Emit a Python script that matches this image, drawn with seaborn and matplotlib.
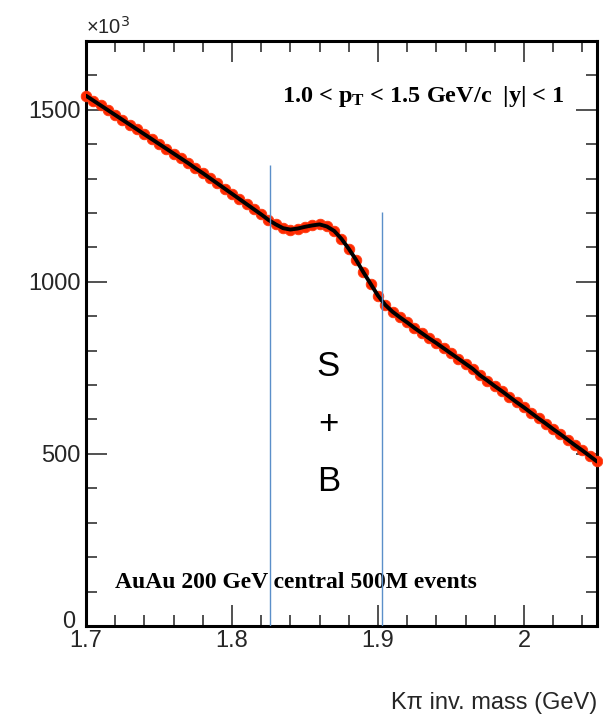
import numpy as np
import pandas as pd
import matplotlib
matplotlib.use("Agg")
import matplotlib.pyplot as plt
import matplotlib.transforms as mtransforms
import seaborn as sns
from matplotlib.ticker import MultipleLocator

# ---- data (counts in units of 10^3) ----
mass = [1.700, 1.705, 1.710, 1.715, 1.720, 1.725, 1.730, 1.735, 1.740, 1.745,
        1.750, 1.755, 1.760, 1.765, 1.770, 1.775, 1.780, 1.785, 1.790, 1.795,
        1.800, 1.805, 1.810, 1.815, 1.820, 1.825, 1.830, 1.835, 1.840, 1.845,
        1.850, 1.855, 1.860, 1.865, 1.870, 1.875, 1.880, 1.885, 1.890, 1.895,
        1.900, 1.905, 1.910, 1.915, 1.920, 1.925, 1.930, 1.935, 1.940, 1.945,
        1.950, 1.955, 1.960, 1.965, 1.970, 1.975, 1.980, 1.985, 1.990, 1.995,
        2.000, 2.005, 2.010, 2.015, 2.020, 2.025, 2.030, 2.035, 2.040, 2.045,
        2.050]
counts = [1541, 1527, 1513, 1499, 1485, 1471, 1457, 1443, 1429, 1415,
          1401, 1387, 1373, 1359, 1345, 1330, 1316, 1301, 1286, 1271,
          1256, 1241, 1226, 1211, 1196, 1180, 1167, 1156, 1152, 1155,
          1160, 1164, 1167, 1161, 1148, 1125, 1096, 1064, 1028, 994,
          960, 933, 913, 897, 882, 866, 851, 836, 822, 807,
          792, 777, 762, 747, 728, 713, 697, 682, 666, 650,
          635, 619, 603, 588, 572, 557, 541, 525, 510, 494,
          478]
window_x = [1.826, 1.903]
window_top = [1340, 1203]
x_ticks = [1.7, 1.8, 1.9, 2.0]
x_tick_labels = ["1.7", "1.8", "1.9", "2"]
y_ticks = [0, 500, 1000, 1500]
y_tick_labels = ["0", "500", "1000", "1500"]

df = pd.DataFrame({"mass": mass, "counts": counts})

sns.set_style("ticks")
plt.rcParams["font.family"] = ["Liberation Sans", "DejaVu Sans"]
plt.rcParams["mathtext.fontset"] = "custom"
plt.rcParams["mathtext.rm"] = "Liberation Serif:bold"
plt.rcParams["mathtext.it"] = "Liberation Serif:bold"
plt.rcParams["mathtext.bf"] = "Liberation Serif:bold"

fig = plt.figure(figsize=(6.03, 7.27), dpi=100)
ax = fig.add_axes([0.1426, 0.139, 0.8474, 0.8046])

sns.scatterplot(data=df, x="mass", y="counts", ax=ax, marker="o", s=58,
                color="#ff2a00", edgecolor="#ff3a10", linewidth=0.6,
                zorder=3, clip_on=False)
sns.lineplot(data=df, x="mass", y="counts", ax=ax, color="black",
             linewidth=2.8, zorder=4)

for xv, top in zip(window_x, window_top):
    ax.vlines(xv, 0, top, color="#5b8fc9", linewidth=1.0, zorder=5)

ax.set_xlim(1.7, 2.05)
ax.set_ylim(0, 1700)
ax.xaxis.set_minor_locator(MultipleLocator(0.02))
ax.yaxis.set_minor_locator(MultipleLocator(100))
ax.set_xticks(x_ticks)
ax.set_xticklabels(x_tick_labels)
ax.set_yticks(y_ticks)
ax.set_yticklabels(y_tick_labels)

ax.tick_params(axis="both", which="major", direction="in", length=15,
               width=1.2, color="#333333", labelsize=17, top=True, right=True)
ax.tick_params(axis="both", which="minor", direction="in", length=8,
               width=1.2, color="#333333", top=True, right=True)
ax.tick_params(axis="x", which="major", pad=3)
ax.tick_params(axis="y", which="major", pad=4)
for sp in ax.spines.values():
    sp.set_visible(True)
    sp.set_linewidth(2.2)
    sp.set_color("black")

# nudge the "0" y label up-left like the ROOT layout, avoiding the "1.7"
lab0 = ax.get_yticklabels()[0]
lab0.set_transform(lab0.get_transform() +
                   mtransforms.ScaledTranslation(-4 / 72, 5 / 72, fig.dpi_scale_trans))

ax.set_xlabel("")
ax.set_ylabel("")

fig.text(0.990, 0.018, "K\u03c0 inv. mass (GeV)", ha="right", va="bottom",
         fontsize=17)
ax.text(0.0, 1.006, "\u00d710$^{\\mathsf{3}}$", transform=ax.transAxes,
        ha="left", va="bottom", fontsize=14.5, family="Liberation Sans")

ax.text(0.937, 0.905, r"1.0 < p$_\mathregular{T}$ < 1.5 GeV/c  |y| < 1",
        transform=ax.transAxes, ha="right", va="center", fontsize=17.5,
        family="Liberation Serif", fontweight="bold", color="black")
ax.text(0.056, 0.075, "AuAu 200 GeV central 500M events",
        transform=ax.transAxes, ha="left", va="center", fontsize=17,
        family="Liberation Serif", fontweight="bold", color="black")

for txt, yv in zip(["S", "+", "B"], [755, 585, 420]):
    ax.text(1.866, yv, txt, ha="center", va="center", fontsize=25,
            family="Liberation Sans", color="black")

fig.savefig("out.png", dpi=100)
